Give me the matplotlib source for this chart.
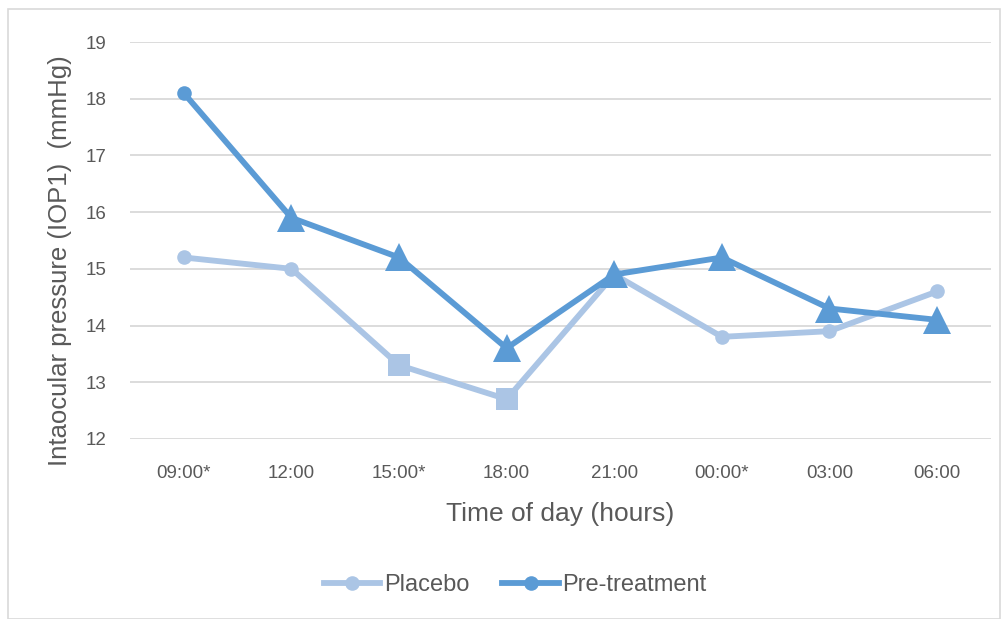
import matplotlib
matplotlib.use("Agg")
import matplotlib.pyplot as plt
from matplotlib.lines import Line2D
from matplotlib.patches import Rectangle

times = ["09:00*", "12:00", "15:00*", "18:00", "21:00", "00:00*", "03:00", "06:00"]
placebo = [15.2, 15.0, 13.3, 12.7, 14.9, 13.8, 13.9, 14.6]
pretreatment = [18.1, 15.9, 15.2, 13.6, 14.9, 15.2, 14.3, 14.1]

placebo_markers = ["o", "o", "s", "s", "o", "o", "o", "o"]
pre_markers = ["o", "^", "^", "^", "^", "^", "^", "^"]

c_placebo = "#ABC5E5"
c_pre = "#5B9BD5"
text_col = "#595959"

plt.rcParams["font.family"] = ["Liberation Sans", "DejaVu Sans"]

fig = plt.figure(figsize=(10.08, 6.19), dpi=100)
fig.patches.append(Rectangle((0.008, 0.0), 0.984, 0.985, transform=fig.transFigure,
                             fill=False, edgecolor="#D9D9D9", lw=1.2))
ax = fig.add_axes([0.129, 0.291, 0.854, 0.641])

x = list(range(len(times)))
msize = {"o": 10.5, "s": 16, "^": 20}


def draw(vals, markers, color, z):
    ax.plot(x, vals, color=color, lw=4.2, zorder=z, solid_capstyle="round")
    for xi, v, m in zip(x, vals, markers):
        ax.plot(xi, v, marker=m, ms=msize[m], color=color, mec=color, mew=0, zorder=z + 0.5)


draw(placebo, placebo_markers, c_placebo, 3)
draw(pretreatment, pre_markers, c_pre, 4)

ax.set_xlim(-0.5, len(times) - 0.5)
ax.set_ylim(12, 19)
ax.set_yticks(range(12, 20))
ax.set_xticks(x)
ax.set_xticklabels(times)
ax.grid(axis="y", color="#D9D9D9", lw=1.3)
ax.set_axisbelow(True)
for s in ax.spines.values():
    s.set_visible(False)
ax.tick_params(length=0, labelsize=13.5, colors=text_col)
ax.tick_params(axis="x", pad=19)
ax.tick_params(axis="y", pad=17)

ax.set_xlabel("Time of day (hours)", fontsize=19, color=text_col, labelpad=14)
ax.set_ylabel("Intaocular pressure (IOP1)  (mmHg)", fontsize=18.5, color=text_col)
ax.yaxis.set_label_coords(-0.067, 0.45)

handles = [
    Line2D([], [], color=c_placebo, lw=4.2, marker="o", ms=10.5, mew=0),
    Line2D([], [], color=c_pre, lw=4.2, marker="o", ms=10.5, mew=0),
]
fig.legend(handles, ["Placebo", "Pre-treatment"], loc="center", bbox_to_anchor=(0.511, 0.055),
           ncol=2, frameon=False, fontsize=17, labelcolor=text_col,
           handlelength=2.4, handletextpad=0.15, columnspacing=1.4)

fig.savefig("out.png", dpi=100)
